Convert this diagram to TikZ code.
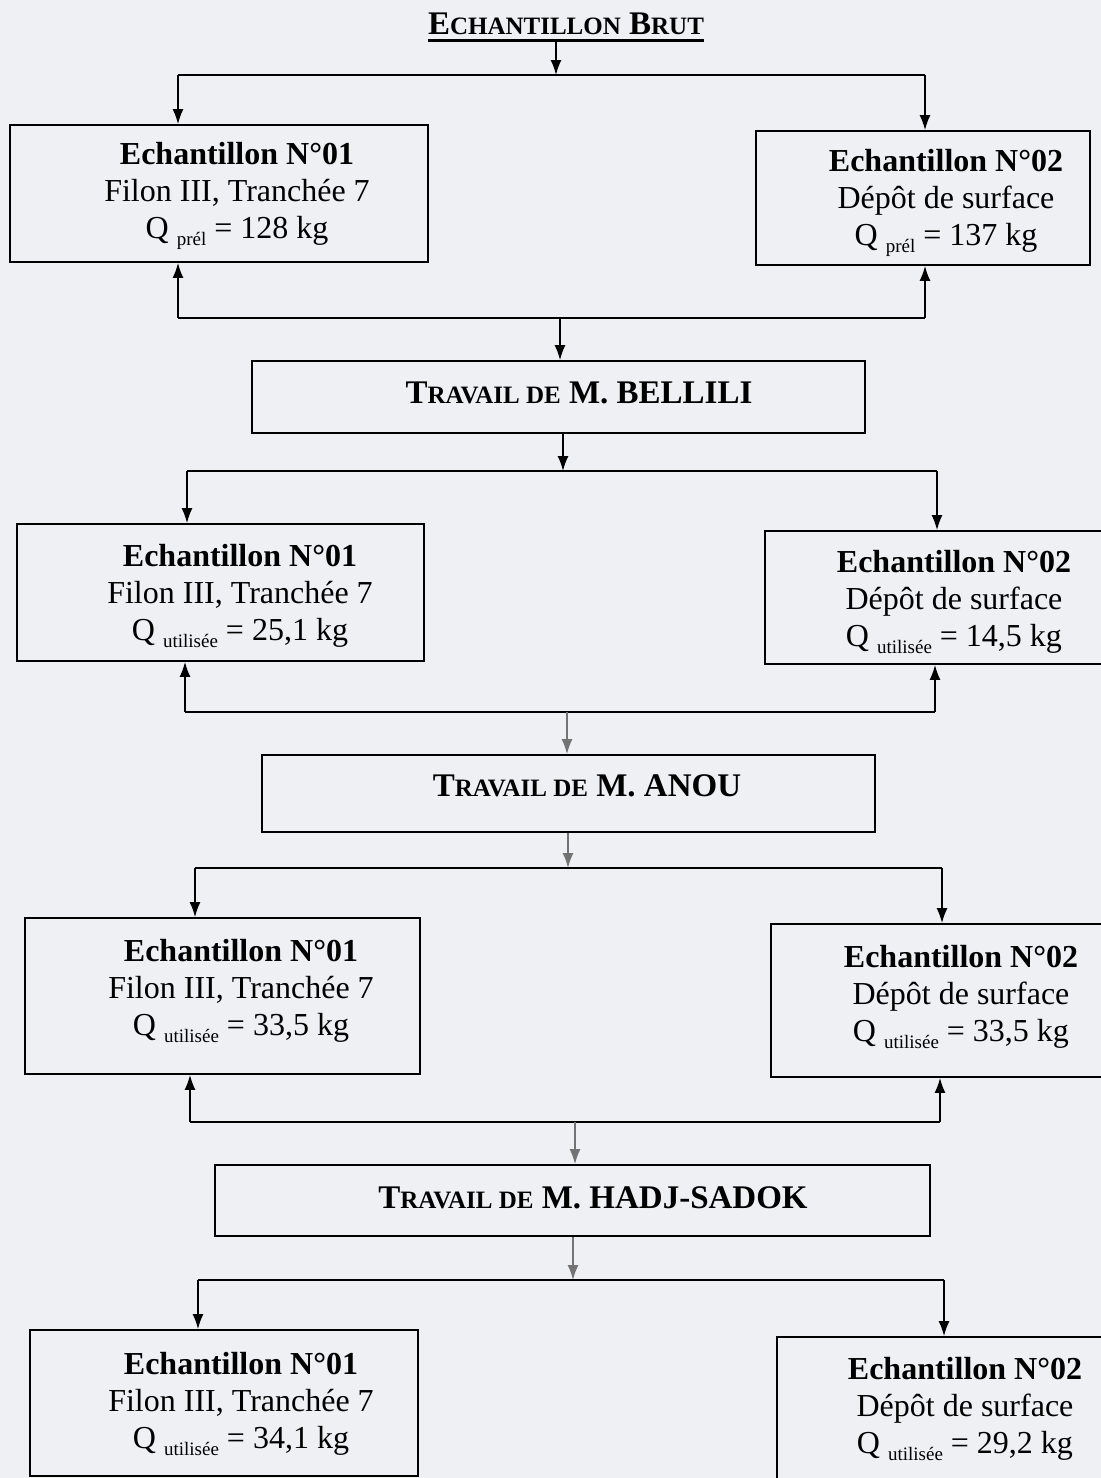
\documentclass[tikz,border=0pt]{standalone}
\usepackage{fontspec}
\setmainfont{Liberation Serif}
\usetikzlibrary{arrows.meta}

\definecolor{fond}{RGB}{239,240,244}
\newcommand{\pc}[1]{{\fontsize{12.5}{14}\selectfont #1}}
\newcommand{\indice}[1]{\raisebox{-0.5ex}{\fontsize{9.5}{9.5}\selectfont #1}}

\tikzset{
  boite/.style={draw, line width=0.9pt, fill=fond, inner sep=0pt},
  texte/.style={align=center, inner sep=0pt, font=\fontsize{16}{18.5}\selectfont},
  entete/.style={inner sep=0pt, font=\bfseries\fontsize{16.5}{18}\selectfont},
  trait/.style={line width=1pt},
  fleche/.style={line width=0.8pt, -{Latex[length=7.5pt,width=5.5pt]}},
  fleche grise/.style={fleche, black!55}
}

\begin{document}
\begin{tikzpicture}[x=0.5pt, y=-0.5pt]
\useasboundingbox [fill=fond] (0,0) rectangle (1101,1478);
\clip (0,0) rectangle (1101,1478);

% titre
\node [entete] (titre) at (566,24) {E\pc{CHANTILLON} B\pc{RUT}};
\draw [line width=1.2pt] ([yshift=-2.5pt]titre.south west) -- ([yshift=-2.5pt]titre.south east);

% boites
\node [boite, minimum width=209pt, minimum height=68.5pt] (e1) at (219,193.5) {};
\node [boite, minimum width=167pt, minimum height=67pt] (e2) at (923,198) {};
\node [boite, minimum width=306.5pt, minimum height=36pt] (bel) at (558.5,397) {};
\node [boite, minimum width=203.5pt, minimum height=68.5pt] (e3) at (220.5,592.5) {};
\node [boite, minimum width=171.5pt, minimum height=66.5pt] (e4) at (936.5,597.5) {};
\node [boite, minimum width=306.5pt, minimum height=38.5pt] (ano) at (568.5,793.5) {};
\node [boite, minimum width=197.5pt, minimum height=78pt] (e5) at (222.5,996) {};
\node [boite, minimum width=168.5pt, minimum height=76.5pt] (e6) at (939.5,1000.5) {};
\node [boite, minimum width=357.5pt, minimum height=35.5pt] (had) at (572.5,1200.5) {};
\node [boite, minimum width=194pt, minimum height=73pt] (e7) at (224,1403) {};
\node [boite, minimum width=165.5pt, minimum height=71.5pt] (e8) at (942.5,1408.5) {};

% textes
\node [texte] (t1) at (237,196) {\textbf{Echantillon N°01}\\Filon III, Tranchée 7\\Q \indice{prél} = 128 kg};
\node [texte] (t2) at (946,203) {\textbf{Echantillon N°02}\\Dépôt de surface\\Q \indice{prél} = 137 kg};
\node [entete] (tbel) at (579,393) {T\pc{RAVAIL DE} M. BELLILI};
\node [texte] (t3) at (240,596) {\textbf{Echantillon N°01}\\Filon III, Tranchée 7\\Q \indice{utilisée} = 25,1 kg};
\node [texte] (t4) at (954,602) {\textbf{Echantillon N°02}\\Dépôt de surface\\Q \indice{utilisée} = 14,5 kg};
\node [entete] (tano) at (587,786) {T\pc{RAVAIL DE} M. ANOU};
\node [texte] (t5) at (241,991) {\textbf{Echantillon N°01}\\Filon III, Tranchée 7\\Q \indice{utilisée} = 33,5 kg};
\node [texte] (t6) at (961,997) {\textbf{Echantillon N°02}\\Dépôt de surface\\Q \indice{utilisée} = 33,5 kg};
\node [entete] (thad) at (593,1198) {T\pc{RAVAIL DE} M. HADJ-SADOK};
\node [texte] (t7) at (241,1404) {\textbf{Echantillon N°01}\\Filon III, Tranchée 7\\Q \indice{utilisée} = 34,1 kg};
\node [texte] (t8) at (965,1409) {\textbf{Echantillon N°02}\\Dépôt de surface\\Q \indice{utilisée} = 29,2 kg};

% points de jonction
\coordinate (h1) at (556,75);
\coordinate (h1g) at (178,75);
\coordinate (h1d) at (925,75);
\coordinate (b1) at (560,318);
\coordinate (b1g) at (178,318);
\coordinate (b1d) at (925,318);
\coordinate (h2) at (563,471);
\coordinate (h2g) at (187,471);
\coordinate (h2d) at (937,471);
\coordinate (b2) at (567,712);
\coordinate (b2g) at (185,712);
\coordinate (b2d) at (935,712);
\coordinate (h3) at (568,868);
\coordinate (h3g) at (195,868);
\coordinate (h3d) at (942,868);
\coordinate (b3) at (575,1122);
\coordinate (b3g) at (190,1122);
\coordinate (b3d) at (940,1122);
\coordinate (h4) at (573,1280);
\coordinate (h4g) at (198,1280);
\coordinate (h4d) at (944,1280);

% echantillon brut
\draw [fleche] ([yshift=-3pt]titre.south -| h1) -- (h1);
\draw [trait] (h1g) -- (h1d);
\draw [fleche] (h1g) -- (h1g |- e1.north);
\draw [fleche] (h1d) -- (h1d |- e2.north);
\draw [trait] (b1g) -- (b1d);
\draw [fleche] (b1g) -- (b1g |- e1.south);
\draw [fleche] (b1d) -- (b1d |- e2.south);
\draw [fleche] (b1) -- (b1 |- bel.north);

% Bellili
\draw [fleche] (bel.south -| h2) -- (h2);
\draw [trait] (h2g) -- (h2d);
\draw [fleche] (h2g) -- (h2g |- e3.north);
\draw [fleche] (h2d) -- (h2d |- e4.north);
\draw [trait] (b2g) -- (b2d);
\draw [fleche] (b2g) -- (b2g |- e3.south);
\draw [fleche] (b2d) -- (b2d |- e4.south);
\draw [fleche grise] (b2) -- (b2 |- ano.north);

% Anou
\draw [fleche grise] (ano.south -| h3) -- (h3);
\draw [trait] (h3g) -- (h3d);
\draw [fleche] (h3g) -- (h3g |- e5.north);
\draw [fleche] (h3d) -- (h3d |- e6.north);
\draw [trait] (b3g) -- (b3d);
\draw [fleche] (b3g) -- (b3g |- e5.south);
\draw [fleche] (b3d) -- (b3d |- e6.south);
\draw [fleche grise] (b3) -- (b3 |- had.north);

% Hadj-Sadok
\draw [fleche grise] (had.south -| h4) -- (h4);
\draw [trait] (h4g) -- (h4d);
\draw [fleche] (h4g) -- (h4g |- e7.north);
\draw [fleche] (h4d) -- (h4d |- e8.north);
\end{tikzpicture}
\end{document}
